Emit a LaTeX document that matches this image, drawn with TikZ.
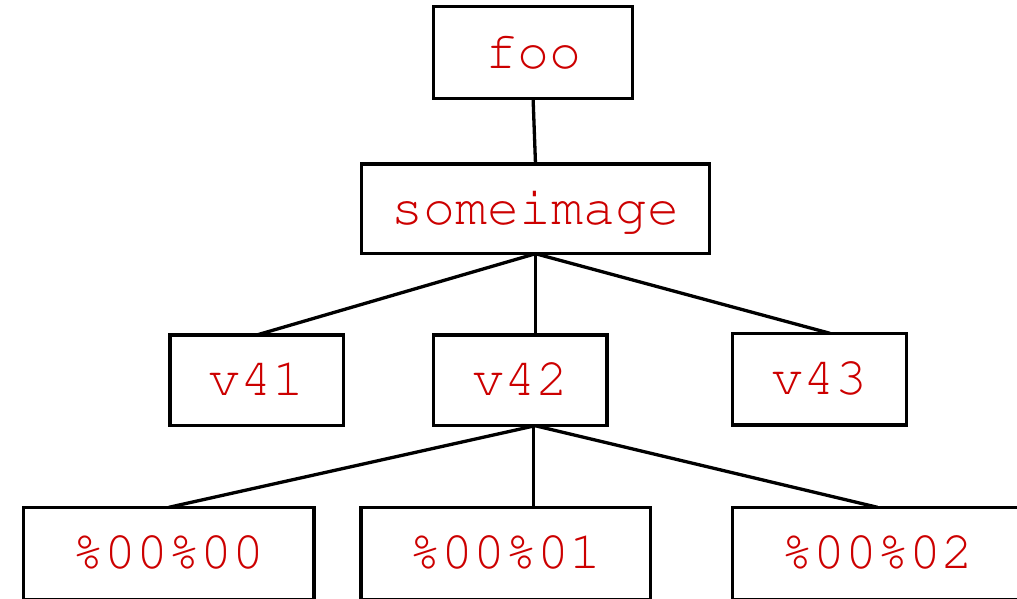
\documentclass[tikz,border=0pt]{standalone}
\usepackage[T1,TU]{fontenc}
\definecolor{labelred}{RGB}{204,0,0}
\newcommand{\courierlabel}{\fontencoding{T1}\fontfamily{pcr}\fontsize{53.3}{60}\selectfont}
\tikzset{
  treebox/.style={draw=black, line width=3.3pt, rectangle, inner sep=0pt, outer sep=0pt,
    text=labelred, font=\courierlabel, text height=31pt, text depth=0pt},
  link/.style={draw=black, line width=3.3pt},
}
\begin{document}
\begin{tikzpicture}[x=1pt, y=-1pt]
  \useasboundingbox (0,0) rectangle (1017,598);
  \clip (0,0) rectangle (1017,598);

  % tree levels, top to bottom
  \node[treebox, minimum width=199.2pt, minimum height=92pt]   (foo)  at (533.1,52.7)   {foo};
  \node[treebox, minimum width=348pt,   minimum height=89.7pt] (img)  at (535.5,208.85) {someimage};
  \node[treebox, minimum width=173.3pt, minimum height=90.7pt] (v41)  at (256.65,380.35) {v41};
  \node[treebox, minimum width=173.7pt, minimum height=90.7pt] (v42)  at (520.15,380.35) {v42};
  \node[treebox, minimum width=174pt,   minimum height=91.7pt] (v43)  at (819.3,379.15)  {v43};
  \node[treebox, minimum width=290.3pt, minimum height=92pt]   (p00)  at (168.85,553.3)  {\%00\%00};
  \node[treebox, minimum width=289.8pt, minimum height=92pt]   (p01)  at (505.9,553.3)   {\%00\%01};
  \node[treebox, minimum width=290pt,   minimum height=92pt]   (p02)  at (877.5,553.3)   {\%00\%02};

  % edge ports
  \coordinate (v43in)  at ([xshift=10.7pt]v43.north);
  \coordinate (v42out) at ([xshift=15pt]v42.south);
  \coordinate (v42mid) at ([xshift=13pt]v42.south);

  % connectors
  \draw[link] (foo.south) -- (img.north);
  \draw[link] (img.south) -- (v41.north);
  \draw[link] (img.south) -- (img.south |- v42.north);
  \draw[link] (img.south) -- (v43in);
  \draw[link] (v42out) -- (p00.north);
  \draw[link] (v42mid) -- (v42mid |- p01.north);
  \draw[link] (v42out) -- (p02.north);
\end{tikzpicture}
\end{document}
